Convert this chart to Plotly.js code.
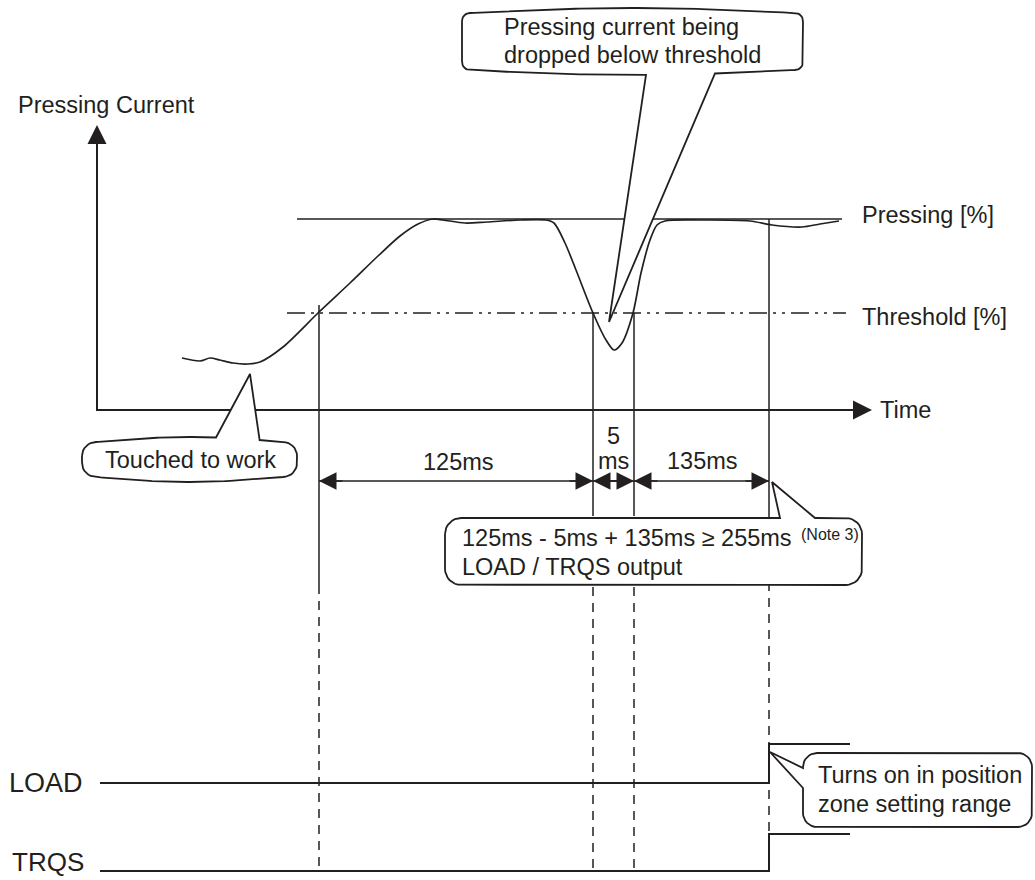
<!DOCTYPE html>
<html>
<head>
<meta charset="utf-8">
<script src="https://cdn.plot.ly/plotly-3.0.1.min.js"></script>
<style>body{margin:0;background:#fff}</style>
</head>
<body>
<div id="chart" style="width:1035px;height:880px"></div>
<script>
// timing chart: pressing current dropping below threshold, LOAD / TRQS outputs
// diagram units: x = time position, y = level (screen-like, grows downward)
var ink = "#231f20";
var fontFam = "Liberation Sans, Arial, sans-serif";

// pressing current trace
var curveT = [182, 200, 210, 220, 233, 248, 260, 283, 319, 350, 378, 400, 418, 433, 443, 465, 487, 520, 546, 554, 565, 576, 593, 606, 614, 622, 633, 641, 650, 657, 665, 700, 750, 772, 802, 820, 839];
var curveI = [358, 361, 358, 360, 363, 364, 362, 347, 312, 283, 256, 236, 224, 219, 220, 223, 222, 220, 220, 223, 243, 270, 313, 340, 350, 343, 313, 273, 240, 225, 221, 220, 221, 225, 227, 224, 221];

var zeroLevel = 410, axisStart = 97, axisEnd = 872, axisTop = 125;
var pressingLevel = 219, pressingSpan = [297, 842];
var thresholdLevel = 313, thresholdSpan = [287, 846];

// event markers (threshold crossings and output time)
var eventT = [319, 593, 634, 769];
var eventTop = [305, 313, 313, 219];
var solidTo = [585, 507, 507, 518];
var dashTo = [871, 868, 868, 834];

// measured spans
var spanY = 481;
var spanLabels = ["125ms", "5", "135ms"];

// output signals
var signalNames = ["LOAD", "TRQS"];
var signalLow = [783, 871];
var signalHigh = [744, 834];
var signalStart = 100, signalEnd = 850;

// callouts: [x0, x1, y0, y1, corner, bow]
var dropBox = [462, 803, 13, 70, 8, 5];
var dropPtr = {side: "bottom", a: 646, b: 715, tip: [609, 322]};
var touchBox = [82, 297, 442, 477, 14, 5];
var touchPtr = {side: "top", a: 216, b: 259, tip: [250, 374]};
var noteBox = [445, 862, 518, 585, 16, 0];
var notePtr = {side: "top", a: 780, b: 815, tip: [772, 482]};
var zoneBox = [803, 1032, 753, 827, 14, 0];
var zonePtr = {side: "left", a: 768, b: 788, tip: [770, 752]};

function bubble(box, ptr) {
    var x0 = box[0], x1 = box[1], y0 = box[2], y1 = box[3], r = box[4], bow = box[5];
    var xs = [], ys = [];
    function put(x, y) { xs.push(x); ys.push(y); }
    function arc(cx, cy, a0) {
        for (var k = 0; k <= 8; k++) {
            var a = a0 + (Math.PI / 2) * k / 8;
            put(cx + r * Math.cos(a), cy + r * Math.sin(a));
        }
    }
    function edge(side, p0, p1, fixed, sign) {
        var n = 80, used = false;
        var horiz = side === "top" || side === "bottom";
        var b = horiz ? bow : 0;
        function at(p) {
            var t = (p - p0) / (p1 - p0);
            var q = fixed + sign * b * Math.sin(Math.PI * t);
            return horiz ? [p, q] : [q, p];
        }
        var lo = ptr ? Math.min(ptr.a, ptr.b) : 0, hi = ptr ? Math.max(ptr.a, ptr.b) : 0;
        for (var k = 1; k < n; k++) {
            var p = p0 + (p1 - p0) * k / n;
            if (ptr && ptr.side === side && p > lo && p < hi) {
                if (!used) {
                    var f = at(p1 > p0 ? lo : hi), l = at(p1 > p0 ? hi : lo);
                    put(f[0], f[1]); put(ptr.tip[0], ptr.tip[1]); put(l[0], l[1]);
                    used = true;
                }
                continue;
            }
            var pt = at(p);
            put(pt[0], pt[1]);
        }
    }
    arc(x0 + r, y0 + r, Math.PI);
    edge("top", x0 + r, x1 - r, y0, -1);
    arc(x1 - r, y0 + r, 1.5 * Math.PI);
    edge("right", y0 + r, y1 - r, x1, 1);
    arc(x1 - r, y1 - r, 0);
    edge("bottom", x1 - r, x0 + r, y1, 1);
    arc(x0 + r, y1 - r, 0.5 * Math.PI);
    edge("left", y1 - r, y0 + r, x0, -1);
    put(xs[0], ys[0]);
    return {x: xs, y: ys};
}

function lineTrace(x, y, width, dash, shape) {
    return {
        type: "scatter", mode: "lines", x: x, y: y, hoverinfo: "skip",
        line: {color: ink, width: width, dash: dash || "solid", shape: shape || "linear"}
    };
}

var traces = [];
traces.push(lineTrace(pressingSpan, [pressingLevel, pressingLevel], 1.6));
traces.push(lineTrace(thresholdSpan, [thresholdLevel, thresholdLevel], 1.6, "18px,6px,3px,6px,3px,6px"));
traces.push(lineTrace([axisStart, axisStart, axisEnd - 14], [axisTop + 14, zeroLevel, zeroLevel], 2));

var curve = lineTrace(curveT, curveI, 1.7, null, "spline");
curve.line.smoothing = 0.8;
traces.push(curve);

var sx = [], sy = [], dx = [], dy = [];
eventT.forEach(function (t, i) {
    sx.push(t, t, null); sy.push(eventTop[i], solidTo[i], null);
    dx.push(t, t, null); dy.push(solidTo[i], dashTo[i], null);
});
traces.push(lineTrace(sx, sy, 1.5));
traces.push(lineTrace(dx, dy, 1.5, "9px,7px"));
traces.push(lineTrace([eventT[0], eventT[3]], [spanY, spanY], 1.5));

signalNames.forEach(function (name, i) {
    traces.push(lineTrace([signalStart, eventT[3], signalEnd], [signalLow[i], signalHigh[i], signalHigh[i]], 2, null, "hv"));
});

[[dropBox, dropPtr], [touchBox, touchPtr], [noteBox, notePtr], [zoneBox, zonePtr]].forEach(function (c) {
    var b = bubble(c[0], c[1]);
    traces.push({
        type: "scatter", mode: "lines", x: b.x, y: b.y, fill: "toself",
        fillcolor: "#ffffff", hoverinfo: "skip",
        line: {color: ink, width: 1.8}
    });
});

function label(text, x, y, anchor, size) {
    return {
        text: text, x: x, y: y, xref: "x", yref: "y", showarrow: false,
        xanchor: anchor || "left", yanchor: "middle",
        font: {family: fontFam, size: size || 23.5, color: ink}
    };
}
function head(x, y, ax, ay, scale, width) {
    return {
        text: "", x: x, y: y, ax: ax, ay: ay, xref: "x", yref: "y", axref: "x", ayref: "y",
        showarrow: true, arrowhead: 2, arrowsize: scale, arrowwidth: width, arrowcolor: ink
    };
}

var annotations = [
    label("Pressing Current", 16, 105),
    label("Time", 878, 410),
    label("Pressing [%]", 860, 215),
    label("Threshold [%]", 860, 317),
    label("Touched to work", 190, 460, "center"),
    label(spanLabels[0], 458, 462, "center"),
    label(spanLabels[1], 613, 436, "center"),
    label("ms", 613, 461, "center"),
    label(spanLabels[2], 702, 461, "center"),
    label("Pressing current being", 502, 27),
    label("dropped below threshold", 502, 55),
    label("125ms - 5ms + 135ms \u2265 255ms", 460, 538),
    label("(Note 3)", 799, 534, "left", 16),
    label("LOAD / TRQS output", 460, 567),
    label("Turns on in position", 816, 775),
    label("zone setting range", 816, 804),
    label(signalNames[0], 7, signalLow[0], "left", 27),
    label(signalNames[1], 10, 862, "left", 26),
    head(axisStart, axisTop, axisStart, axisTop + 30, 1.9, 2),
    head(axisEnd, zeroLevel, axisEnd - 30, zeroLevel, 1.9, 2)
];
for (var i = 0; i < 3; i++) {
    annotations.push(head(eventT[i], spanY, eventT[i] + 25, spanY, 2.33, 1.5));
    annotations.push(head(eventT[i + 1], spanY, eventT[i + 1] - 25, spanY, 2.33, 1.5));
}

var layout = {
    width: 1035, height: 880,
    margin: {l: 0, r: 0, t: 0, b: 0},
    paper_bgcolor: "#ffffff", plot_bgcolor: "#ffffff",
    showlegend: false,
    xaxis: {range: [0, 1035], visible: false, fixedrange: true},
    yaxis: {range: [880, 0], visible: false, fixedrange: true},
    annotations: annotations
};

Plotly.newPlot("chart", traces, layout, {staticPlot: true});
</script>
</body>
</html>
